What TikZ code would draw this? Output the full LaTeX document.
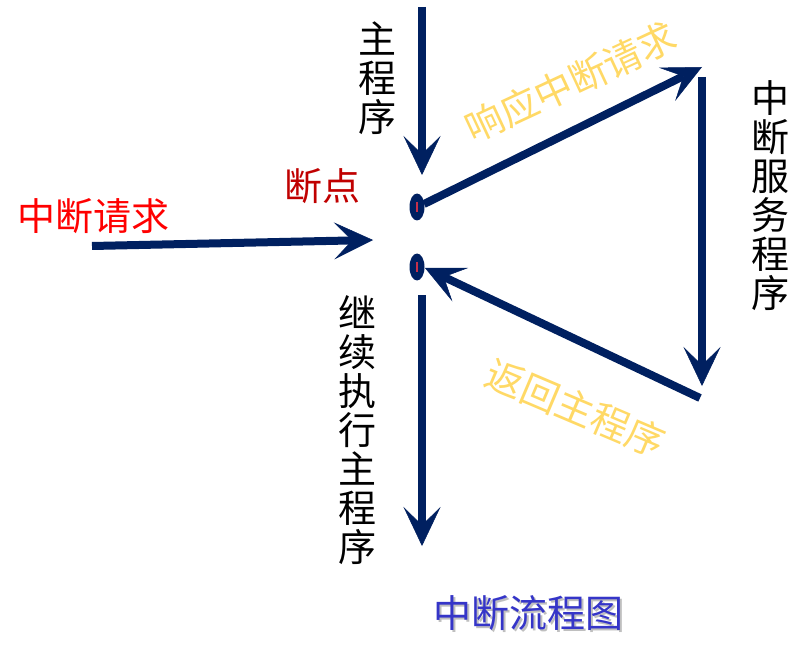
\documentclass[tikz,border=0pt]{standalone}
\usepackage{fontspec}
\newfontfamily\cjk{Noto Sans CJK SC}
\usetikzlibrary{arrows.meta,shapes.geometric}
\definecolor{navy}{HTML}{002060}
\definecolor{gold}{HTML}{FFD966}
\definecolor{darkred}{HTML}{C00000}
\definecolor{titleblue}{HTML}{3535C8}
\definecolor{dotred}{HTML}{C8304A}
\tikzset{
  flow/.style={draw=navy,line width=8pt,-{Stealth[length=39pt,width=37pt,inset=18pt,line width=0.5pt]}},
  lbl/.style={font=\cjk\fontsize{38}{39}\selectfont,inner sep=0pt,align=center},
  dotnode/.style={ellipse,fill=navy,minimum width=15pt,minimum height=27pt,inner sep=0pt},
}
\begin{document}
\begin{tikzpicture}[x=1pt,y=-1pt]
\useasboundingbox[fill=white] (0,0) rectangle (806,655);
% break points
\node[dotnode] (dotA) at (417,207) {};
\node[dotnode] (dotB) at (417,267) {};
\draw[dotred,line width=2pt] (dotA.center) ++(0,-5) coordinate (ra1) -- ++(0,10) coordinate (ra2);
\draw[dotred,line width=2pt] (dotB.center) ++(0,-5) coordinate (rb1) -- ++(0,10) coordinate (rb2);
% coordinates
\coordinate (mainTop) at (422,7);
\coordinate (mainTip) at (422,175);
\coordinate (reqStart) at (92,246);
\coordinate (reqTip) at (373,240);
\coordinate (respStart) at (424,204);
\coordinate (respTip) at (702,67);
\coordinate (servTop) at (702,77);
\coordinate (servTip) at (702,386);
\coordinate (retStart) at (700,398);
\coordinate (retTip) at (425,268);
\coordinate (contTop) at (422,295);
\coordinate (contTip) at (422,546);
% arrows
\draw[flow] (mainTop) -- (mainTip);
\draw[flow] (reqStart) -- (reqTip);
\draw[flow] (respStart) -- (respTip);
\draw[flow] (servTop) -- (servTip);
\draw[flow] (retStart) -- (retTip);
\draw[flow] (contTop) -- (contTip);
% labels
\node[lbl] (tMain) at (377,78) {主\\程\\序};
\node[lbl,text=darkred] (tBreak) at (322,186) {断点};
\node[lbl,text=red] (tReq) at (93,216) {中断请求};
\node[lbl] (tServ) at (770,196) {中\\断\\服\\务\\程\\序};
\node[lbl] (tCont) at (357,430) {继\\续\\执\\行\\主\\程\\序};
\node[lbl,text=gold,rotate=25] (tResp) at (571,82) {响应中断请求};
\node[lbl,text=gold,rotate=-23] (tRet) at (576,408) {返回主程序};
\node[lbl,text=black!25] (tTitleShadow) at (530,615) {中断流程图};
\node[lbl,text=titleblue] (tTitle) at (528,613) {中断流程图};
\end{tikzpicture}
\end{document}
